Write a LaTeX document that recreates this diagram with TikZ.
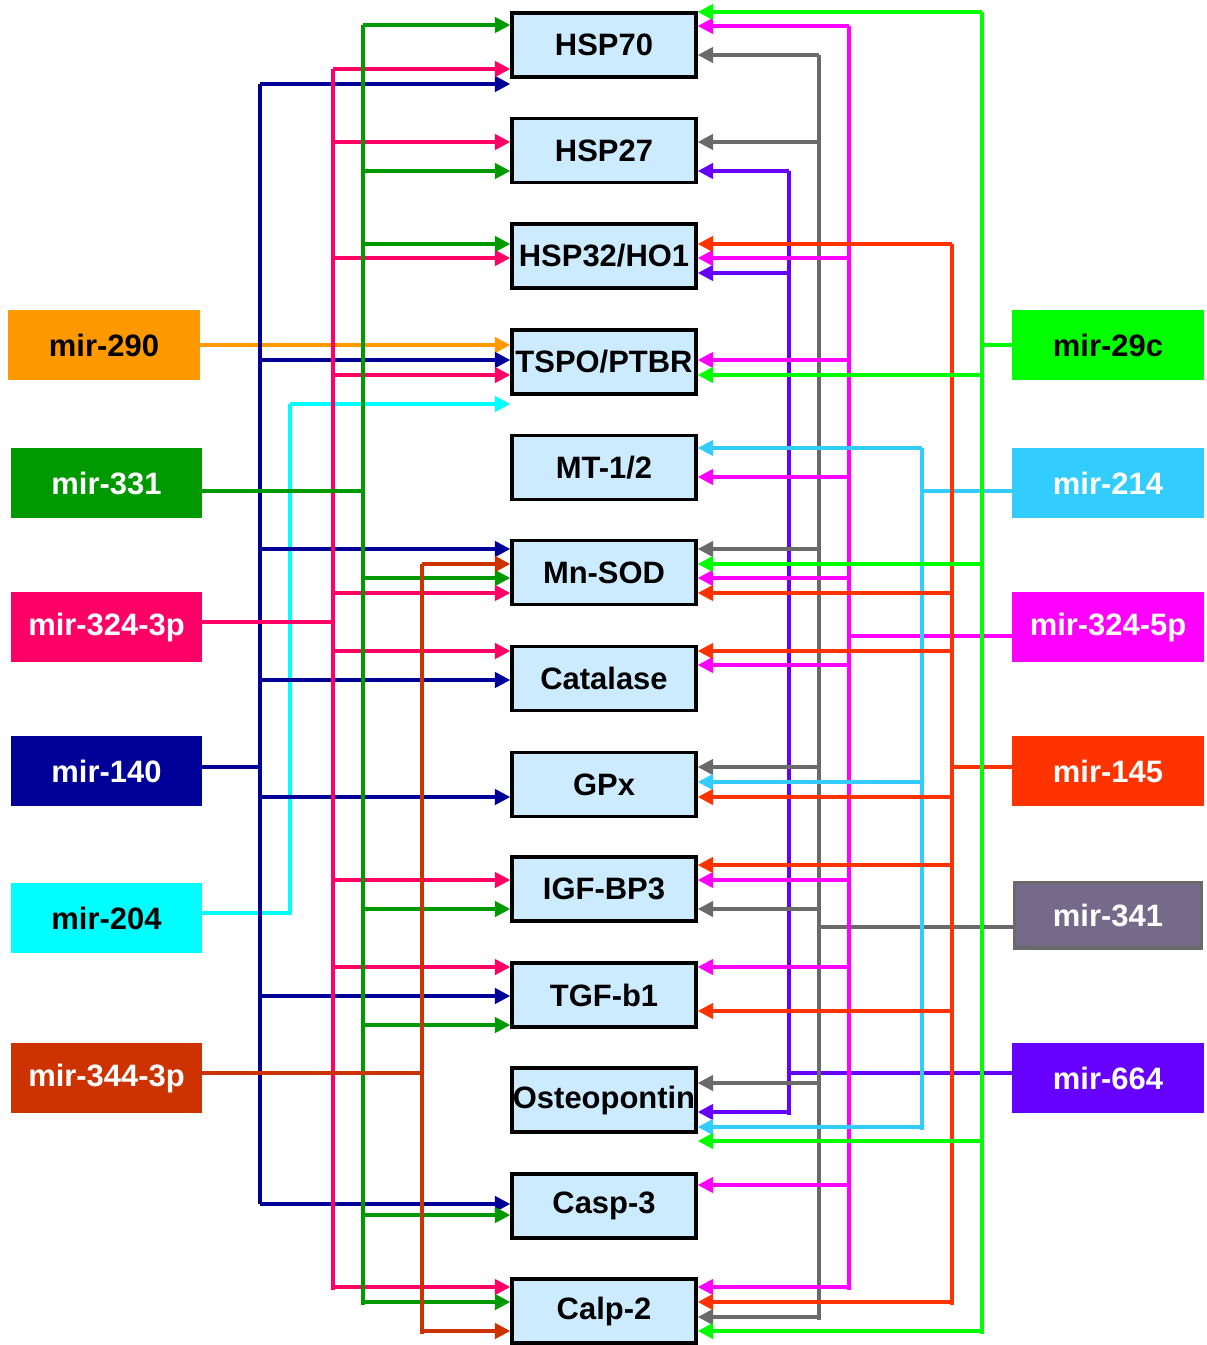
\documentclass[tikz,border=0pt]{standalone}
\usepackage{fontspec}
\setmainfont{Liberation Sans}
\usetikzlibrary{arrows.meta}

\definecolor{geneblue}{HTML}{CCEBFF}
\definecolor{c290}{HTML}{FF9900}
\definecolor{c331}{HTML}{009900}
\definecolor{c3243p}{HTML}{FF0066}
\definecolor{c140}{HTML}{000099}
\definecolor{c204}{HTML}{00FFFF}
\definecolor{c3443p}{HTML}{CC3300}
\definecolor{c29c}{HTML}{00FF00}
\definecolor{c214}{HTML}{33CCFF}
\definecolor{c3245p}{HTML}{FF00FF}
\definecolor{c145}{HTML}{FF3300}
\definecolor{c341}{HTML}{766A8A}
\definecolor{w341}{HTML}{6A6A6A}
\definecolor{c664}{HTML}{6600FF}

\tikzset{
  gene/.style={draw=black, line width=2.4pt, fill=geneblue, minimum width=4.6cm,
    minimum height=1.6cm, inner sep=0pt, font=\fontsize{22}{26}\selectfont\bfseries},
  mirbox/.style={minimum width=4.78cm, minimum height=1.76cm, inner sep=0pt,
    text=white, font=\fontsize{22}{26}\selectfont\bfseries},
  wire/.style={line width=2.4pt},
  arr/.style={wire, -{Triangle[length=11pt,width=11pt]}},
}

\begin{document}
\begin{tikzpicture}[x=0.025cm, y=-0.025cm]
\useasboundingbox (0,0) rectangle (1207,1345);

% target genes
\node[gene] (hsp70) at (604,45) {HSP70};
\node[gene] (hsp27) at (604,150.5) {HSP27};
\node[gene] (hsp32) at (604,256) {HSP32/HO1};
\node[gene] (tspo) at (604,362) {TSPO/PTBR};
\node[gene] (mt) at (604,467.5) {MT-1/2};
\node[gene] (mnsod) at (604,572.5) {Mn-SOD};
\node[gene] (cat) at (604,678.5) {Catalase};
\node[gene] (gpx) at (604,784.5) {GPx};
\node[gene] (igf) at (604,889) {IGF-BP3};
\node[gene] (tgf) at (604,995) {TGF-b1};
\node[gene] (osteo) at (604,1100) {Osteopontin};
\node[gene] (casp) at (604,1206) {Casp-3};
\node[gene] (calp) at (604,1311) {Calp-2};

% microRNAs, left
\node[mirbox, fill=c290, text=black] (m290) at (104,345) {mir-290};
\node[mirbox, fill=c331] (m331) at (106.5,483) {mir-331};
\node[mirbox, fill=c3243p] (m3243p) at (106.5,627) {mir-324-3p};
\node[mirbox, fill=c140] (m140) at (106.5,771) {mir-140};
\node[mirbox, fill=c204, text=black] (m204) at (106.5,918) {mir-204};
\node[mirbox, fill=c3443p] (m3443p) at (106.5,1078) {mir-344-3p};

% microRNAs, right
\node[mirbox, fill=c29c, text=black] (m29c) at (1108,345) {mir-29c};
\node[mirbox, fill=c214] (m214) at (1108,483) {mir-214};
\node[mirbox, fill=c3245p] (m3245p) at (1108,627) {mir-324-5p};
\node[mirbox, fill=c145] (m145) at (1108,771) {mir-145};
\node[mirbox, fill=c341, draw=w341, line width=2.4pt, minimum width=4.66cm, minimum height=1.64cm] (m341) at (1108,915) {mir-341};
\node[mirbox, fill=c664] (m664) at (1108,1078) {mir-664};

% left buses
\draw[arr, c290] (m290.east) -- (tspo.west |- 0,345);

\draw[wire, c204] (m204.east |- 0,913) -- (290,913) -- (290,404);
\draw[arr, c204] (290,404) -- (tspo.west |- 0,404);

\draw[wire, c140] (m140.east |- 0,767) -- (260,767);
\draw[wire, c140] (260,84) -- (260,1204);
\foreach \y/\t in {84/hsp70, 360/tspo, 549/mnsod, 680/cat, 797/gpx, 996/tgf, 1204/casp}
  \draw[arr, c140] (260,\y) -- (\t.west |- 0,\y);

\draw[wire, c3243p] (m3243p.east |- 0,622) -- (333,622);
\draw[wire, c3243p] (333,69) -- (333,1290);
\foreach \y/\t in {69/hsp70, 142/hsp27, 258/hsp32, 375/tspo, 593/mnsod, 651/cat, 880/igf, 967/tgf, 1287/calp}
  \draw[arr, c3243p] (333,\y) -- (\t.west |- 0,\y);

\draw[wire, c331] (m331.east |- 0,491) -- (363,491);
\draw[wire, c331] (363,25) -- (363,1305);
\foreach \y/\t in {25/hsp70, 171/hsp27, 244/hsp32, 578/mnsod, 909/igf, 1025/tgf, 1215/casp, 1302/calp}
  \draw[arr, c331] (363,\y) -- (\t.west |- 0,\y);

\draw[wire, c3443p] (m3443p.east |- 0,1073) -- (422,1073);
\draw[wire, c3443p] (422,564) -- (422,1334);
\foreach \y/\t in {564/mnsod, 1331/calp}
  \draw[arr, c3443p] (422,\y) -- (\t.west |- 0,\y);

% right buses
\draw[wire, c664] (m664.west |- 0,1073) -- (789,1073);
\draw[wire, c664] (789,171) -- (789,1115);
\foreach \y/\t in {171/hsp27, 273/hsp32, 1112/osteo}
  \draw[arr, c664] (789,\y) -- (\t.east |- 0,\y);

\draw[wire, w341] (m341.west |- 0,927) -- (819,927);
\draw[wire, w341] (819,55) -- (819,1320);
\foreach \y/\t in {55/hsp70, 142/hsp27, 549/mnsod, 767/gpx, 909/igf, 1083/osteo, 1317/calp}
  \draw[arr, w341] (819,\y) -- (\t.east |- 0,\y);

\draw[wire, c3245p] (m3245p.west |- 0,636) -- (849,636);
\draw[wire, c3245p] (849,26) -- (849,1290);
\foreach \y/\t in {26/hsp70, 258/hsp32, 360/tspo, 477/mt, 578/mnsod, 665/cat, 880/igf, 967/tgf, 1185/casp, 1287/calp}
  \draw[arr, c3245p] (849,\y) -- (\t.east |- 0,\y);

\draw[wire, c214] (m214.west |- 0,491) -- (922,491);
\draw[wire, c214] (922,448) -- (922,1130);
\foreach \y/\t in {448/mt, 782/gpx, 1127/osteo}
  \draw[arr, c214] (922,\y) -- (\t.east |- 0,\y);

\draw[wire, c145] (m145.west |- 0,767) -- (952,767);
\draw[wire, c145] (952,244) -- (952,1305);
\foreach \y/\t in {244/hsp32, 593/mnsod, 651/cat, 797/gpx, 865/igf, 1011/tgf, 1302/calp}
  \draw[arr, c145] (952,\y) -- (\t.east |- 0,\y);

\draw[wire, c29c] (m29c.west) -- (982,345);
\draw[wire, c29c] (982,12) -- (982,1334);
\foreach \y/\t in {12/hsp70, 375/tspo, 564/mnsod, 1141/osteo, 1331/calp}
  \draw[arr, c29c] (982,\y) -- (\t.east |- 0,\y);
\end{tikzpicture}
\end{document}
